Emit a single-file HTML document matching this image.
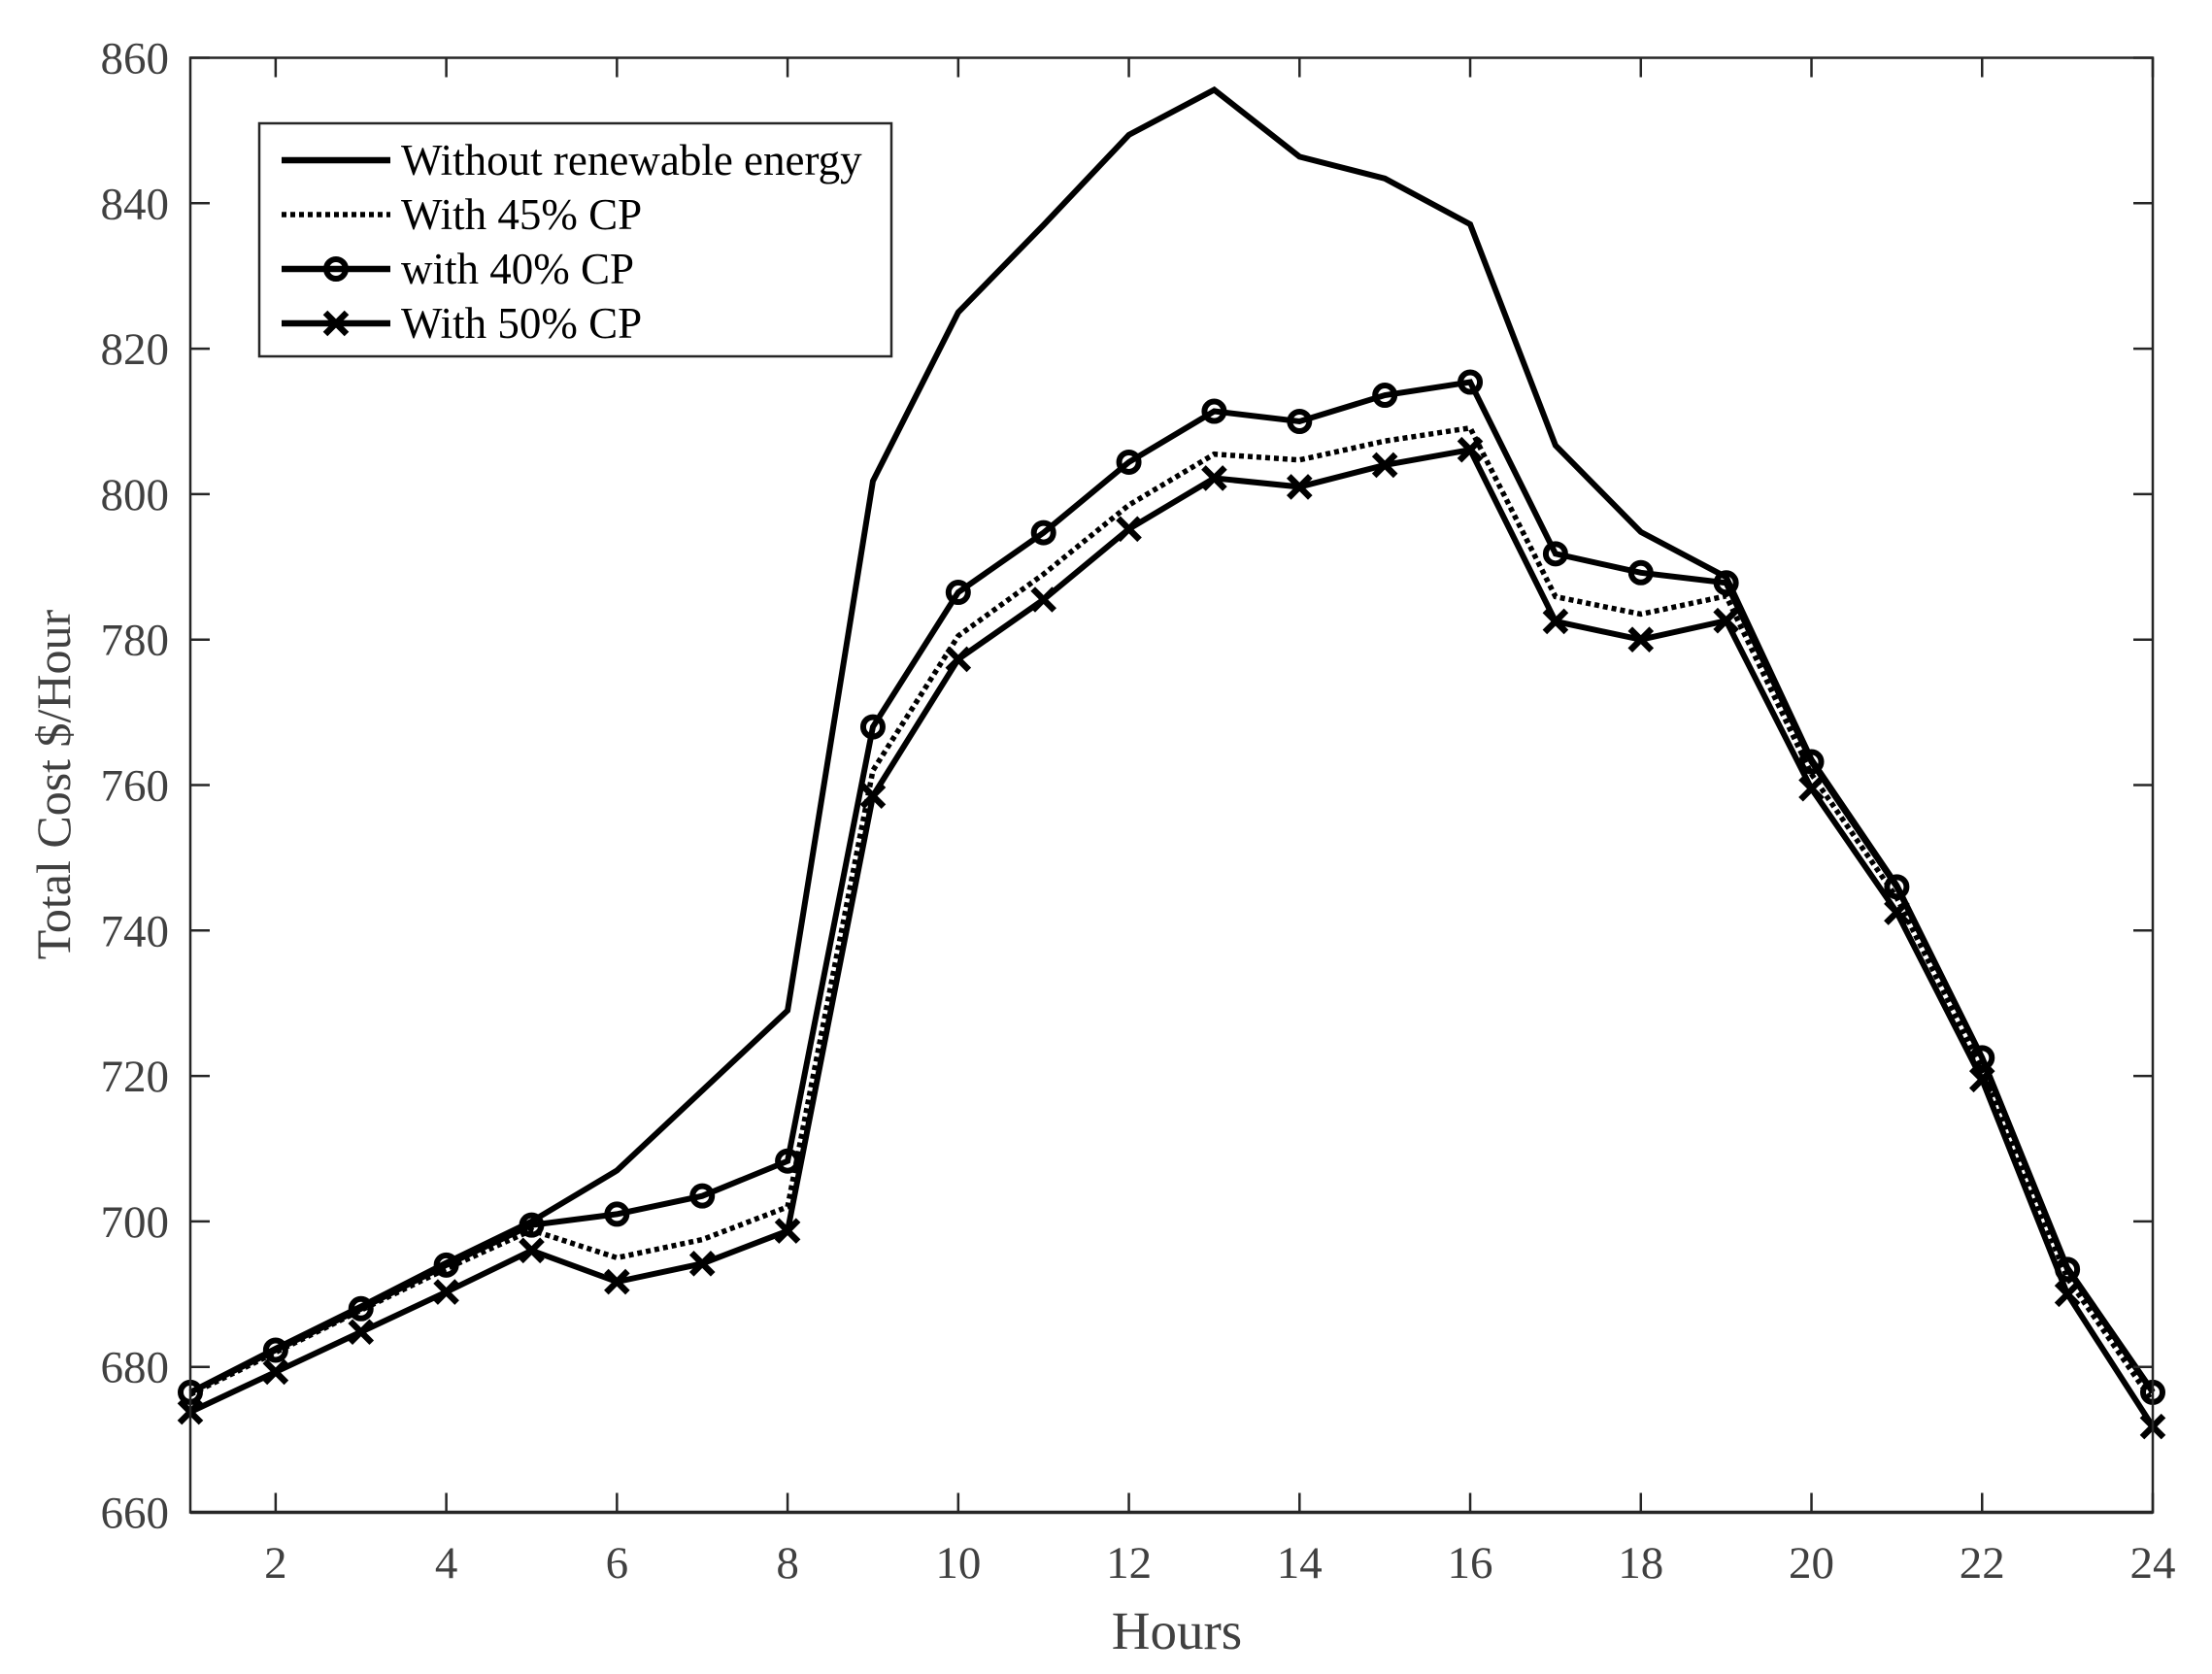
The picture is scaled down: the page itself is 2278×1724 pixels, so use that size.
<!DOCTYPE html>
<html><head><meta charset="utf-8"><style>
html,body{margin:0;padding:0;background:#fff;}
svg{display:block;}
text{font-family:"Liberation Serif","Times New Roman",serif;}
</style></head><body>
<svg id="chart" width="2278" height="1724" viewBox="0 0 2278 1724" xmlns="http://www.w3.org/2000/svg">
<rect x="0" y="0" width="2278" height="1724" fill="#fff"/>
<g id="marks"></g>
<g id="axes"></g>
<g id="legend"></g>
</svg>
<script>
const hours = [1,2,3,4,5,6,7,8,9,10,11,12,13,14,15,16,17,18,19,20,21,22,23,24];
const withoutRE = [676.5,682.5,688.3,694.3,700,707,718,729,801.8,825,837,849.4,855.6,846.4,843.4,837.1,806.7,794.8,788.6,763.5,746.2,722.5,693.6,676.6];
const cp45 = [676.2,682,687.8,693.5,698.8,695,697.5,702,762,780.5,789,798.5,805.5,804.7,807.3,809.1,785.9,783.5,786,761.5,744.5,721,692.2,675.2];
const cp40 = [676.5,682.3,688,694,699.5,701,703.5,708.3,768,786.5,794.7,804.4,811.4,810,813.6,815.4,791.8,789.2,787.8,763.2,746,722.5,693.4,676.5];
const cp50 = [673.8,679.3,684.8,690.3,696,691.7,694.2,698.7,758.5,777.3,785.5,795.2,802.2,801,804,806.1,782.5,780,782.6,759.5,742.5,719.5,690,671.8];
const xTicks = [2,4,6,8,10,12,14,16,18,20,22,24];
const yTicks = [660,680,700,720,740,760,780,800,820,840,860];

const L=196,R=2217,T=59.5,B=1557.5;
const xs = h => L + (h-1)*(R-L)/23;
const ys = v => B - (v-660)*(B-T)/200;
const NS="http://www.w3.org/2000/svg";
function mk(tag, attrs, parent){const e=document.createElementNS(NS,tag);for(const k in attrs)e.setAttribute(k,attrs[k]);parent.appendChild(e);return e;}
const marks=document.getElementById('marks'), axes=document.getElementById('axes'), leg=document.getElementById('legend');

function series(vals, name, dash){
  const pts = vals.map((v,i)=>xs(hours[i])+','+ys(v)).join(' ');
  const p = mk('polyline',{points:pts,fill:'none',stroke:'#000','stroke-width':6,'stroke-linejoin':'miter'},marks);
  if(dash){p.setAttribute('stroke-dasharray','5,4');p.setAttribute('stroke-width',5.5);}
  
  
}
series(withoutRE,'line-without-renewable',false);
series(cp45,'line-45-cp',true);
series(cp40,'line-40-cp',false);
series(cp50,'line-50-cp',false);
cp40.forEach((v,i)=>{
  const c=mk('circle',{cx:xs(hours[i]),cy:ys(v),r:10,fill:'none',stroke:'#000','stroke-width':6},marks);
  
  
});
cp50.forEach((v,i)=>{
  const x=xs(hours[i]),y=ys(v),s=11;
  const c=mk('path',{d:`M${x-s},${y-s}L${x+s},${y+s}M${x-s},${y+s}L${x+s},${y-s}`,stroke:'#000','stroke-width':6.5,fill:'none'},marks);
  
  
});

// axes
const frame=mk('rect',{x:L,y:T,width:R-L,height:B-T,fill:'none',stroke:'#262626','stroke-width':2.5},axes);


const bline=mk('line',{x1:L,y1:B,x2:R,y2:B,stroke:'#262626','stroke-width':3.5},axes);


xTicks.forEach(h=>{
  const x=xs(h);
  mk('line',{x1:x,y1:B,x2:x,y2:B-20,stroke:'#262626','stroke-width':2.5},axes);
  mk('line',{x1:x,y1:T,x2:x,y2:T+20,stroke:'#262626','stroke-width':2.5},axes);
  const t=mk('text',{x:x,y:1625,'font-size':47,fill:'#404040','text-anchor':'middle'},axes);
  t.textContent=h;
  
  
});
yTicks.forEach(v=>{
  const y=ys(v);
  mk('line',{x1:L,y1:y,x2:L+20,y2:y,stroke:'#262626','stroke-width':2.5},axes);
  mk('line',{x1:R,y1:y,x2:R-20,y2:y,stroke:'#262626','stroke-width':2.5},axes);
  const t=mk('text',{x:174,y:y+16,'font-size':47,fill:'#404040','text-anchor':'end'},axes);
  t.textContent=v;
  
  
});
const xt=mk('text',{x:1212,y:1698,'font-size':55,fill:'#404040','text-anchor':'middle'},axes);
xt.textContent='Hours';


const yt=mk('text',{x:0,y:0,'font-size':50,fill:'#404040','text-anchor':'middle',transform:'translate(72,808) rotate(-90)'},axes);
yt.textContent='Total Cost $/Hour';



// legend
const box=mk('rect',{x:267,y:127,width:651,height:240,fill:'#fff',stroke:'#262626','stroke-width':2.5},leg);


const labels=['Without renewable energy','With 45% CP','with 40% CP','With 50% CP'];
const rowsY=[165,221,277,333];
labels.forEach((lab,i)=>{
  const y=rowsY[i];
  const g=mk('g',{},leg);
  
  
  const ln=mk('line',{x1:290,y1:y,x2:402,y2:y,stroke:'#000','stroke-width':i==1?5.5:6.5},g);
  if(i==1)ln.setAttribute('stroke-dasharray','5,4');
  if(i==2)mk('circle',{cx:346,cy:y,r:10,fill:'none',stroke:'#000','stroke-width':6},g);
  if(i==3)mk('path',{d:`M335,${y-11}L357,${y+11}M335,${y+11}L357,${y-11}`,stroke:'#000','stroke-width':6.5},g);
  const t=mk('text',{x:413,y:y+15,'font-size':45,fill:'#000'},g);
  t.textContent=lab;
});
</script>
</body></html>
